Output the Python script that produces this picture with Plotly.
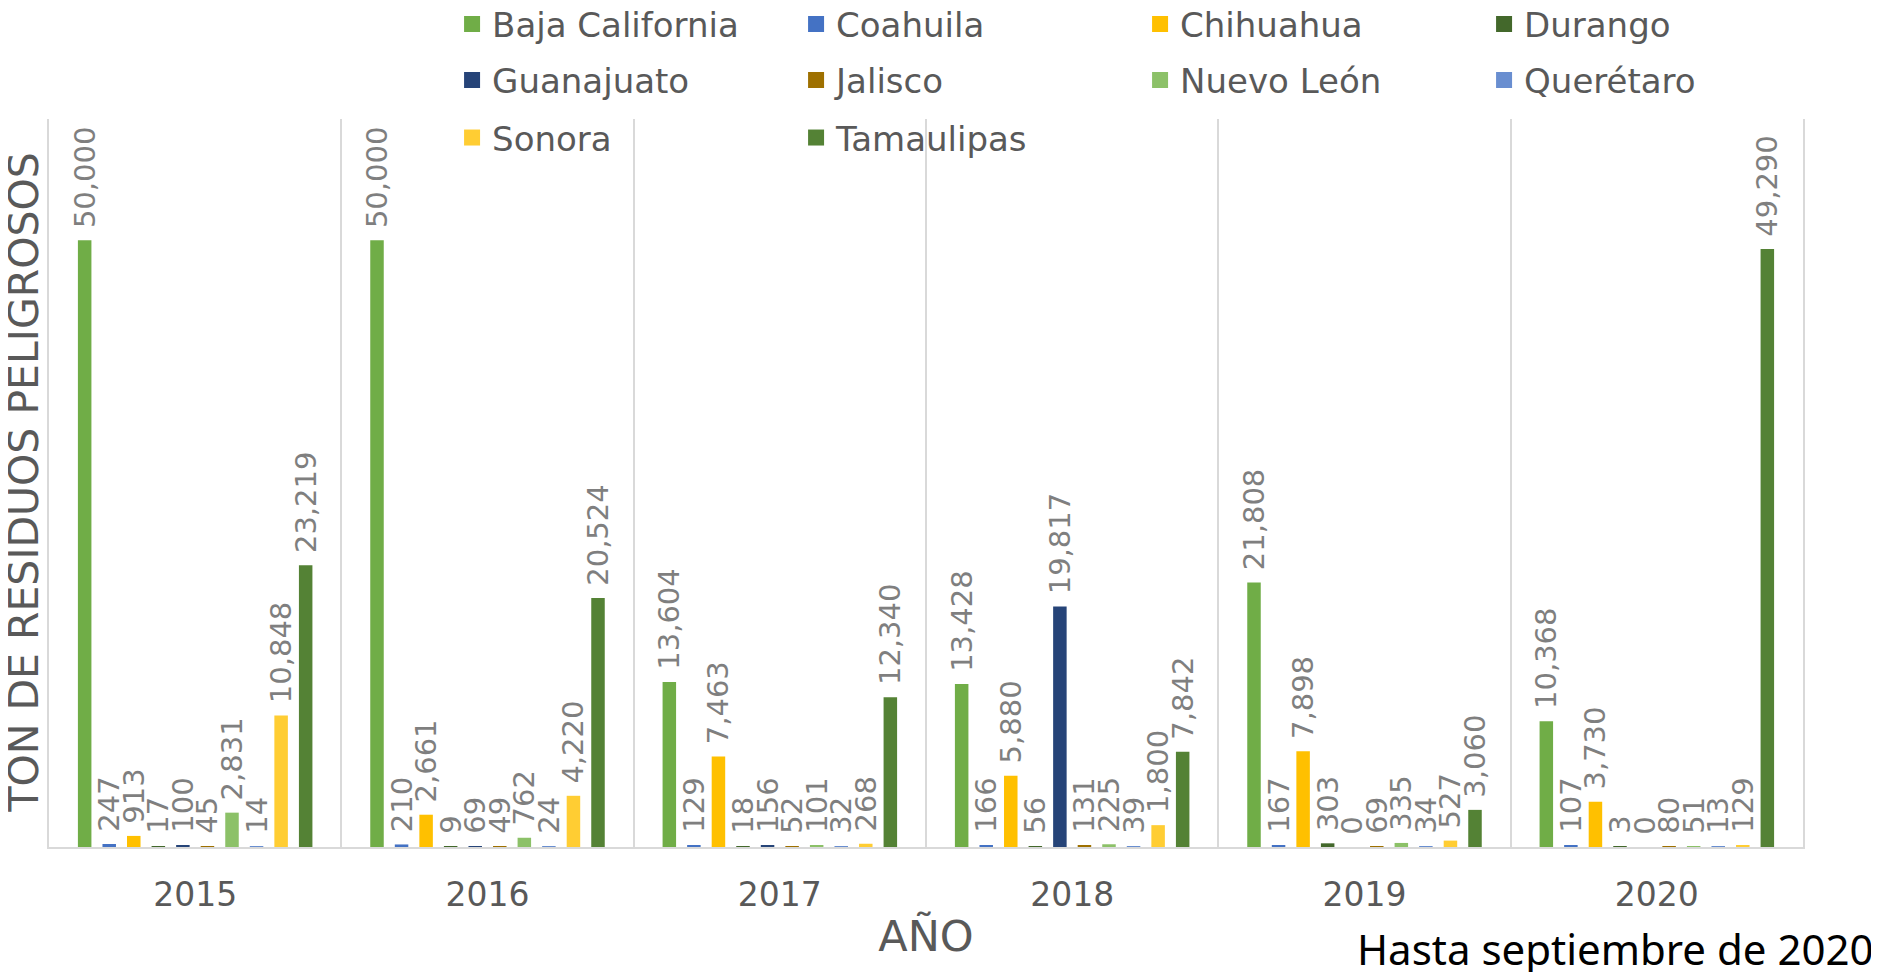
"""
Residuos peligrosos por estado y año
"""
import plotly.graph_objects as go

years = ["2015", "2016", "2017", "2018", "2019", "2020"]

states = ["Baja California", "Coahuila", "Chihuahua", "Durango", "Guanajuato",
          "Jalisco", "Nuevo León", "Querétaro", "Sonora", "Tamaulipas"]

baja_california = [50000, 50000, 13604, 13428, 21808, 10368]
coahuila = [247, 210, 129, 166, 167, 107]
chihuahua = [913, 2661, 7463, 5880, 7898, 3730]
durango = [17, 9, 18, 56, 303, 3]
guanajuato = [100, 69, 156, 19817, 0, 0]
jalisco = [45, 49, 52, 131, 69, 80]
nuevo_leon = [2831, 762, 101, 225, 335, 51]
queretaro = [14, 24, 32, 39, 34, 13]
sonora = [10848, 4220, 268, 1800, 527, 129]
tamaulipas = [23219, 20524, 12340, 7842, 3060, 49290]

values = [baja_california, coahuila, chihuahua, durango, guanajuato,
          jalisco, nuevo_leon, queretaro, sonora, tamaulipas]

colors = ["#70AD47", "#4472C4", "#FFC000", "#43682B", "#264478",
          "#9E7000", "#8CC168", "#698ED0", "#FFCD33", "#548235"]

# legend rows of the original: 4, 4 and 2 entries
legend_rows = ["legend"] * 4 + ["legend2"] * 4 + ["legend3"] * 2

fig = go.Figure()
for name, vals, color in zip(states, values, colors):
    fig.add_trace(go.Bar(
        x=years, y=vals, name=name, showlegend=False,
        marker=dict(color=color, line=dict(width=0)),
        texttemplate="\u00a0%{y:,}", textposition="outside", textangle=-90,
        textfont=dict(family="DejaVu Sans", size=29, color="#7F7F7F"),
        constraintext="none", cliponaxis=False, hoverinfo="x+y+name",
    ))

# legend entries with bigger square swatches
for name, color, lg in zip(states, colors, legend_rows):
    fig.add_trace(go.Scatter(
        x=[None], y=[None], name=name, legend=lg, mode="markers",
        marker=dict(symbol="square", size=16, color=color),
    ))

legend_style = dict(
    orientation="h", x=0.2298, xanchor="left", yanchor="middle",
    font=dict(size=34, color="#595959"),
    entrywidth=299, entrywidthmode="pixels",
    traceorder="normal", bgcolor="rgba(0,0,0,0)",
)

fig.update_layout(
    width=1879, height=972,
    paper_bgcolor="white", plot_bgcolor="white",
    margin=dict(l=41, r=84, t=111, b=133, autoexpand=False),
    barmode="group", bargap=0.16, bargroupgap=0.45,
    font=dict(family="DejaVu Sans", color="#595959"),
    legend=dict(legend_style, y=1.130),
    legend2=dict(legend_style, y=1.053),
    legend3=dict(legend_style, y=0.974),
    showlegend=True,
)

fig.update_xaxes(
    type="category", tickson="boundaries", showgrid=True, gridcolor="#D9D9D9",
    gridwidth=1.5, showline=True, linecolor="#D9D9D9", linewidth=1.5,
    ticks="", tickfont=dict(size=33, color="#595959"), ticklabelstandoff=18,
    title=dict(text="AÑO", font=dict(size=43, color="#595959"), standoff=8),
    automargin=False,
)
fig.update_yaxes(
    range=[0, 60000], showgrid=False, zeroline=False, showticklabels=False,
    showline=True, mirror=True, linecolor="#D9D9D9", linewidth=1.5,
    automargin=False,
)

# y axis title, placed by hand like in the original
fig.add_annotation(
    text="TON DE RESIDUOS PELIGROSOS", xref="paper", yref="paper",
    x=-0.0145, y=0.5, xanchor="center", yanchor="middle", textangle=-90,
    showarrow=False, font=dict(size=41, color="#595959"),
)

fig.add_annotation(
    text="Hasta septiembre de 2020", xref="paper", yref="paper",
    x=0.7446, y=-0.140, xanchor="left", yanchor="middle", showarrow=False,
    font=dict(family="Noto Sans", size=42, color="#000000"),
)

fig.write_html("out.html")
